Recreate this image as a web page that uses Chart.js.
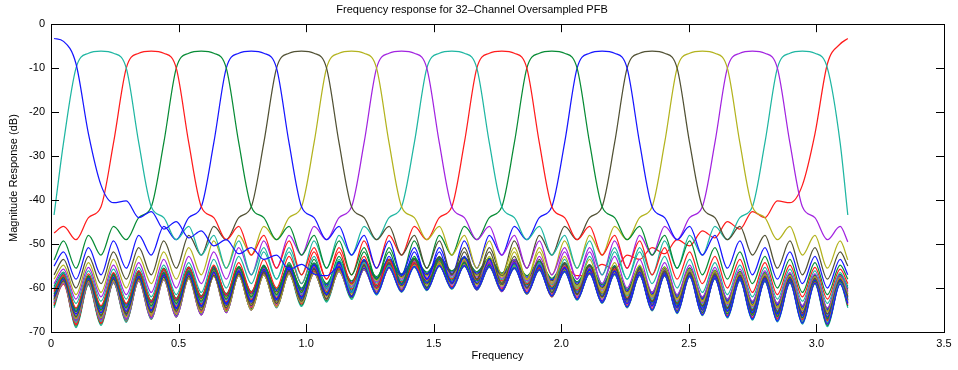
<!DOCTYPE html>
<html>
<head>
<meta charset="utf-8">
<script src="https://cdn.jsdelivr.net/npm/chart.js@4.4.0/dist/chart.umd.min.js"></script>
<style>
  html, body { margin: 0; padding: 0; background: #fff; }
  #wrap { width: 958px; height: 370px; }
</style>
</head>
<body>
<div id="wrap"><canvas id="pfbChart" width="958" height="370"></canvas></div>
<script>
// Frequency grid (rad/sample), shared by every channel
const freqs = [0.012, 0.049, 0.098, 0.147, 0.196, 0.245, 0.295, 0.344, 0.393, 0.442, 0.491, 0.540, 0.589, 0.638, 0.687, 0.736,
  0.785, 0.834, 0.884, 0.933, 0.982, 1.031, 1.080, 1.129, 1.178, 1.227, 1.276, 1.325, 1.374, 1.424, 1.473, 1.522,
  1.571, 1.620, 1.669, 1.718, 1.767, 1.816, 1.865, 1.914, 1.963, 2.013, 2.062, 2.111, 2.160, 2.209, 2.258, 2.307,
  2.356, 2.405, 2.454, 2.503, 2.553, 2.602, 2.651, 2.700, 2.749, 2.798, 2.847, 2.896, 2.945, 2.994, 3.043, 3.093, 3.123];

// Magnitude response (dB) of each channel, channels 0..16 have their passband in view
const ch00 = [-3.25, -3.9, -9, -25, -36.6, -40.6, -40.2, -44, -42.6, -46.6, -44.9, -48.6, -47, -50.4, -49, -52.2, -50.8, -53.5, -52.5, -55.8, -54.6, -56.8, -57.2, -55.2, -62, -55.5, -61.4, -55.3, -60.8, -55.1, -60.4, -54.9, -60.1, -54.9, -60.3, -55.1, -60.6, -55.4, -61.2, -55.8, -61.8, -56.2, -62.6, -56.6, -63.3, -56.8, -64.3, -57, -65, -57.1, -65.6, -57.3, -66.1, -57.8, -66.6, -58.1, -67.1, -58.4, -67.5, -58.7, -68, -58.9, -68.2, -59.1, -63.5];
const ch01 = [-43.4, -27, -10, -6.6, -6.1, -6.6, -10, -27, -41.5, -44, -49, -46, -52.5, -48, -55.5, -49.3, -57, -50.8, -58, -51.8, -59, -52.8, -60, -53.5, -61, -54.2, -61.4, -54.8, -60.8, -55.1, -60.4, -54.9, -60.1, -54.9, -60.3, -55.1, -60.6, -55.4, -61.2, -55.8, -61.8, -56.2, -62.6, -56.6, -63.3, -56.8, -64.3, -57, -65, -57.1, -65.6, -57.3, -66.1, -57.8, -66.6, -58.1, -67.1, -58.4, -67.4, -58.7, -67.6, -58.9, -67.8, -58.8, -63.3];
const ch02 = [-47.5, -46, -49, -44, -41.5, -27, -10, -6.6, -6.1, -6.6, -10, -27, -41.5, -44, -49, -46, -52.5, -48, -55.5, -49.3, -57, -50.8, -58, -51.8, -59, -52.8, -60, -53.5, -60.8, -54.2, -60.4, -54.8, -60.1, -54.9, -60.3, -55.1, -60.6, -55.4, -61.2, -55.8, -61.8, -56.2, -62.6, -56.6, -63.3, -56.8, -64.3, -57, -65, -57.1, -65.6, -57.3, -66.1, -57.8, -66.5, -58.1, -66.8, -58.4, -67, -58.6, -67.2, -58.7, -67.4, -58.8, -63];
const ch03 = [-53.6, -49.3, -55.5, -48, -52.5, -46, -49, -44, -41.5, -27, -10, -6.6, -6.1, -6.6, -10, -27, -41.5, -44, -49, -46, -52.5, -48, -55.5, -49.3, -57, -50.8, -58, -51.8, -59, -52.8, -60, -53.5, -60.1, -54.2, -60.3, -54.8, -60.6, -55.3, -61.2, -55.7, -61.8, -56.1, -62.6, -56.5, -63.3, -56.8, -64.3, -57, -65, -57.1, -65.3, -57.3, -65.6, -57.8, -65.9, -58, -66.2, -58.2, -66.5, -58.4, -66.8, -58.5, -67, -58.6, -62.7];
const ch04 = [-55, -51.8, -58, -50.8, -57, -49.3, -55.5, -48, -52.5, -46, -49, -44, -41.5, -27, -10, -6.6, -6.1, -6.6, -10, -27, -41.5, -44, -49, -46, -52.5, -48, -55.5, -49.3, -57, -50.8, -58, -51.8, -59, -52.8, -60, -53.5, -60.6, -54.2, -61.2, -54.8, -61.8, -55.3, -62.5, -55.7, -63, -56.1, -63.5, -56.5, -64, -56.8, -64.5, -57.1, -65, -57.4, -65.3, -57.6, -65.6, -57.8, -65.9, -58, -66.2, -58.2, -66.5, -58.4, -62.4];
const ch05 = [-57, -53.5, -60, -52.8, -59, -51.8, -58, -50.8, -57, -49.3, -55.5, -48, -52.5, -46, -49, -44, -41.5, -27, -10, -6.6, -6.1, -6.6, -10, -27, -41.5, -44, -49, -46, -52.5, -48, -55.5, -49.3, -57, -50.8, -58, -51.8, -59, -52.8, -60, -53.5, -61, -54.2, -61.5, -54.8, -62, -55.3, -62.5, -55.7, -63, -56.1, -63.5, -56.5, -64, -56.8, -64.5, -57.1, -65, -57.4, -65.3, -57.6, -65.6, -57.8, -65.9, -58, -61.9];
const ch06 = [-58, -54.8, -61.5, -54.2, -61, -53.5, -60, -52.8, -59, -51.8, -58, -50.8, -57, -49.3, -55.5, -48, -52.5, -46, -49, -44, -41.5, -27, -10, -6.6, -6.1, -6.6, -10, -27, -41.5, -44, -49, -46, -52.5, -48, -55.5, -49.3, -57, -50.8, -58, -51.8, -59, -52.8, -60, -53.5, -61, -54.2, -61.5, -54.8, -62, -55.3, -62.5, -55.7, -63, -56.1, -63.5, -56.5, -64, -56.8, -64.5, -57.1, -65, -57.4, -65.3, -57.6, -61.4];
const ch07 = [-59, -55.7, -62.5, -55.3, -62, -54.8, -61.5, -54.2, -61, -53.5, -60, -52.8, -59, -51.8, -58, -50.8, -57, -49.3, -55.5, -48, -52.5, -46, -49, -44, -41.5, -27, -10, -6.6, -6.1, -6.6, -10, -27, -41.5, -44, -49, -46, -52.5, -48, -55.5, -49.3, -57, -50.8, -58, -51.8, -59, -52.8, -60, -53.5, -61, -54.2, -61.5, -54.8, -62, -55.3, -62.5, -55.7, -63, -56.1, -63.5, -56.5, -64, -56.8, -64.5, -57.1, -60.8];
const ch08 = [-60, -56.5, -63.5, -56.1, -63, -55.7, -62.5, -55.3, -62, -54.8, -61.5, -54.2, -61, -53.5, -60, -52.8, -59, -51.8, -58, -50.8, -57, -49.3, -55.5, -48, -52.5, -46, -49, -44, -41.5, -27, -10, -6.6, -6.1, -6.6, -10, -27, -41.5, -44, -49, -46, -52.5, -48, -55.5, -49.3, -57, -50.8, -58, -51.8, -59, -52.8, -60, -53.5, -61, -54.2, -61.5, -54.8, -62, -55.3, -62.5, -55.7, -63, -56.1, -63.5, -56.5, -60];
const ch09 = [-60.8, -57.1, -64.5, -56.8, -64, -56.5, -63.5, -56.1, -63, -55.7, -62.5, -55.3, -62, -54.8, -61.5, -54.2, -61, -53.5, -60, -52.8, -59, -51.8, -58, -50.8, -57, -49.3, -55.5, -48, -52.5, -46, -49, -44, -41.5, -27, -10, -6.6, -6.1, -6.6, -10, -27, -41.5, -44, -49, -46, -52.5, -48, -55.5, -49.3, -57, -50.8, -58, -51.8, -59, -52.8, -60, -53.5, -61, -54.2, -61.5, -54.8, -62, -55.3, -62.5, -55.7, -59];
const ch10 = [-61.4, -57.6, -65.3, -57.4, -65, -57.1, -64.5, -56.8, -64, -56.5, -63.5, -56.1, -63, -55.7, -62.5, -55.3, -62, -54.8, -61.5, -54.2, -61, -53.5, -60, -52.8, -59, -51.8, -58, -50.8, -57, -49.3, -55.5, -48, -52.5, -46, -49, -44, -41.5, -27, -10, -6.6, -6.1, -6.6, -10, -27, -41.5, -44, -49, -46, -52.5, -48, -55.5, -49.3, -57, -50.8, -58, -51.8, -59, -52.8, -60, -53.5, -61, -54.2, -61.5, -54.8, -58];
const ch11 = [-61.9, -58, -65.9, -57.8, -65.6, -57.6, -65.3, -57.4, -65, -57.1, -64.5, -56.8, -64, -56.5, -63.5, -56.1, -63, -55.7, -62.5, -55.3, -62, -54.8, -61.5, -54.2, -61, -53.5, -60, -52.8, -59, -51.8, -58, -50.8, -57, -49.3, -55.5, -48, -52.5, -46, -49, -44, -41.5, -27, -10, -6.6, -6.1, -6.6, -10, -27, -41.5, -44, -49, -46, -52.5, -48, -55.5, -49.3, -57, -50.8, -58, -51.8, -59, -52.8, -60, -53.5, -57];
const ch12 = [-62.4, -58.4, -66.5, -58.2, -66.2, -58, -65.9, -57.8, -65.6, -57.6, -65.3, -57.4, -65, -57.1, -64.5, -56.8, -64, -56.5, -63.5, -56.1, -63, -55.7, -62.5, -55.3, -61.8, -54.8, -61.2, -54.2, -60.6, -53.5, -60, -52.8, -59, -51.8, -58, -50.8, -57, -49.3, -55.5, -48, -52.5, -46, -49, -44, -41.5, -27, -10, -6.6, -6.1, -6.6, -10, -27, -41.5, -44, -49, -46, -52.5, -48, -55.5, -49.3, -57, -50.8, -58, -51.8, -55];
const ch13 = [-62.7, -58.6, -67, -58.5, -66.8, -58.4, -66.5, -58.2, -66.2, -58, -65.9, -57.8, -65.6, -57.3, -65.3, -57.1, -65, -57, -64.3, -56.8, -63.3, -56.5, -62.6, -56.1, -61.8, -55.7, -61.2, -55.3, -60.6, -54.8, -60.3, -54.2, -60.1, -53.5, -60, -52.8, -59, -51.8, -58, -50.8, -57, -49.3, -55.5, -48, -52.5, -46, -49, -44, -41.5, -27, -10, -6.6, -6.1, -6.6, -10, -27, -41.5, -44, -49, -46, -52.5, -48, -55.5, -49.3, -53.6];
const ch14 = [-63, -58.8, -67.4, -58.7, -67.2, -58.6, -67, -58.4, -66.8, -58.1, -66.5, -57.8, -66.1, -57.3, -65.6, -57.1, -65, -57, -64.3, -56.8, -63.3, -56.6, -62.6, -56.2, -61.8, -55.8, -61.2, -55.4, -60.6, -55.1, -60.3, -54.9, -60.1, -54.8, -60.4, -54.2, -60.8, -53.5, -60, -52.8, -59, -51.8, -58, -50.8, -57, -49.3, -55.5, -48, -52.5, -46, -49, -44, -41.5, -27, -10, -6.6, -6.1, -6.6, -10, -27, -41.5, -44, -49, -46, -49.5];
const ch15 = [-63.3, -58.8, -67.8, -58.9, -67.6, -58.7, -67.4, -58.4, -67.1, -58.1, -66.6, -57.8, -66.1, -57.3, -65.6, -57.1, -65, -57, -64.3, -56.8, -63.3, -56.6, -62.6, -56.2, -61.8, -55.8, -61.2, -55.4, -60.6, -55.1, -60.3, -54.9, -60.1, -54.9, -60.4, -55.1, -60.8, -54.8, -61.4, -54.2, -61, -53.5, -60, -52.8, -59, -51.8, -58, -50.8, -57, -49.3, -55.5, -48, -52.5, -46, -49, -44, -41.5, -27, -10, -6.6, -6.1, -6.6, -10, -27, -43.4];
const ch16 = [-63.5, -59.1, -68.2, -58.9, -68, -58.7, -67.5, -58.4, -67.1, -58.1, -66.6, -57.8, -66.1, -57.3, -65.6, -57.1, -65, -57, -64.3, -56.8, -63.3, -56.6, -62.6, -56.2, -61.8, -55.8, -61.2, -55.4, -60.6, -55.1, -60.3, -54.9, -60.1, -54.9, -60.4, -55.1, -60.8, -55.3, -61.4, -55.5, -62, -55.2, -57.2, -56.8, -54.6, -55.8, -52.5, -53.5, -50.8, -52.2, -49, -50.4, -47, -48.6, -44.9, -46.6, -42.6, -44, -40.2, -40.6, -36.6, -25, -9, -4.5, -3.25];
// channels 17..31: only their stopband shows in this range
const ch17 = [-59.6, -56.4, -64.8, -57.2, -64.3, -56.7, -63.6, -56.1, -62.8, -55.5, -62.3, -55.2, -61.8, -55.1, -61.3, -55.1, -60.8, -54.9, -60.3, -54.7, -60.0, -54.3, -59.0, -53.9, -58.4, -53.6, -57.4, -53.4, -56.8, -53.2, -56.4, -53.0, -56.1, -53.0, -56.3, -53.2, -56.6, -53.5, -57.2, -53.9, -57.8, -54.3, -58.6, -54.7, -59.3, -54.9, -60.3, -55.1, -61.0, -55.2, -61.6, -55.4, -62.1, -55.9, -62.6, -56.2, -63.1, -56.5, -63.5, -56.8, -64.0, -57.0, -64.6, -56.9, -59.6];
const ch18 = [-59.9, -56.5, -65.1, -57.3, -64.6, -56.8, -63.9, -56.2, -63.1, -55.6, -62.6, -55.3, -62.1, -55.2, -61.6, -55.2, -61.1, -55.0, -60.6, -54.8, -60.3, -54.4, -59.3, -54.0, -58.7, -53.7, -57.7, -53.5, -57.1, -53.3, -56.7, -53.1, -56.4, -53.1, -56.6, -53.3, -56.9, -53.6, -57.5, -54.0, -58.1, -54.4, -58.9, -54.8, -59.6, -55.0, -60.6, -55.2, -61.3, -55.3, -61.9, -55.5, -62.4, -56.0, -62.9, -56.3, -63.4, -56.6, -63.8, -56.9, -64.3, -57.1, -64.9, -57.0, -59.9];
const ch19 = [-60.3, -56.7, -65.4, -57.5, -64.9, -57.0, -64.2, -56.4, -63.4, -55.8, -62.9, -55.5, -62.4, -55.4, -61.9, -55.4, -61.4, -55.2, -60.9, -55.0, -60.6, -54.6, -59.6, -54.2, -59.0, -53.9, -58.0, -53.7, -57.4, -53.5, -57.0, -53.3, -56.7, -53.3, -56.9, -53.5, -57.2, -53.8, -57.8, -54.2, -58.4, -54.6, -59.2, -55.0, -59.9, -55.2, -60.9, -55.4, -61.6, -55.5, -62.2, -55.7, -62.7, -56.2, -63.2, -56.5, -63.7, -56.8, -64.1, -57.1, -64.6, -57.3, -65.2, -57.2, -60.3];
const ch20 = [-60.6, -56.8, -65.7, -57.6, -65.2, -57.1, -64.5, -56.5, -63.7, -55.9, -63.2, -55.6, -62.7, -55.5, -62.2, -55.5, -61.7, -55.3, -61.2, -55.1, -60.9, -54.7, -59.9, -54.3, -59.3, -54.0, -58.3, -53.8, -57.7, -53.6, -57.3, -53.4, -57.0, -53.4, -57.2, -53.6, -57.5, -53.9, -58.1, -54.3, -58.7, -54.7, -59.5, -55.1, -60.2, -55.3, -61.2, -55.5, -61.9, -55.6, -62.5, -55.8, -63.0, -56.3, -63.5, -56.6, -64.0, -56.9, -64.4, -57.2, -64.9, -57.4, -65.5, -57.3, -60.6];
const ch21 = [-61.0, -57.0, -66.0, -57.8, -65.5, -57.3, -64.8, -56.7, -64.0, -56.1, -63.5, -55.8, -63.0, -55.7, -62.5, -55.7, -62.0, -55.5, -61.5, -55.3, -61.2, -54.9, -60.2, -54.5, -59.6, -54.2, -58.6, -54.0, -58.0, -53.8, -57.6, -53.6, -57.3, -53.6, -57.5, -53.8, -57.8, -54.1, -58.4, -54.5, -59.0, -54.9, -59.8, -55.3, -60.5, -55.5, -61.5, -55.7, -62.2, -55.8, -62.8, -56.0, -63.3, -56.5, -63.8, -56.8, -64.3, -57.1, -64.7, -57.4, -65.2, -57.6, -65.8, -57.5, -61.0];
const ch22 = [-61.3, -57.1, -66.3, -57.9, -65.8, -57.4, -65.1, -56.8, -64.3, -56.2, -63.8, -55.9, -63.3, -55.8, -62.8, -55.8, -62.3, -55.6, -61.8, -55.4, -61.5, -55.0, -60.5, -54.6, -59.9, -54.3, -58.9, -54.1, -58.3, -53.9, -57.9, -53.7, -57.6, -53.7, -57.8, -53.9, -58.1, -54.2, -58.7, -54.6, -59.3, -55.0, -60.1, -55.4, -60.8, -55.6, -61.8, -55.8, -62.5, -55.9, -63.1, -56.1, -63.6, -56.6, -64.1, -56.9, -64.6, -57.2, -65.0, -57.5, -65.5, -57.7, -66.1, -57.6, -61.3];
const ch23 = [-61.7, -57.3, -66.6, -58.1, -66.1, -57.6, -65.4, -57.0, -64.6, -56.4, -64.1, -56.1, -63.6, -56.0, -63.1, -56.0, -62.6, -55.8, -62.1, -55.6, -61.8, -55.2, -60.8, -54.8, -60.2, -54.5, -59.2, -54.3, -58.6, -54.1, -58.2, -53.9, -57.9, -53.9, -58.1, -54.1, -58.4, -54.4, -59.0, -54.8, -59.6, -55.2, -60.4, -55.6, -61.1, -55.8, -62.1, -56.0, -62.8, -56.1, -63.4, -56.3, -63.9, -56.8, -64.4, -57.1, -64.9, -57.4, -65.3, -57.7, -65.8, -57.9, -66.4, -57.8, -61.7];
const ch24 = [-62.0, -57.4, -66.9, -58.2, -66.4, -57.7, -65.7, -57.1, -64.9, -56.5, -64.4, -56.2, -63.9, -56.1, -63.4, -56.1, -62.9, -55.9, -62.4, -55.7, -62.1, -55.3, -61.1, -54.9, -60.5, -54.6, -59.5, -54.4, -58.9, -54.2, -58.5, -54.0, -58.2, -54.0, -58.4, -54.2, -58.7, -54.5, -59.3, -54.9, -59.9, -55.3, -60.7, -55.7, -61.4, -55.9, -62.4, -56.1, -63.1, -56.2, -63.7, -56.4, -64.2, -56.9, -64.7, -57.2, -65.2, -57.5, -65.6, -57.8, -66.1, -58.0, -66.7, -57.9, -62.0];
const ch25 = [-62.4, -57.6, -67.2, -58.4, -66.7, -57.9, -66.0, -57.3, -65.2, -56.7, -64.7, -56.4, -64.2, -56.3, -63.7, -56.3, -63.2, -56.1, -62.7, -55.9, -62.4, -55.5, -61.4, -55.1, -60.8, -54.8, -59.8, -54.6, -59.2, -54.4, -58.8, -54.2, -58.5, -54.2, -58.7, -54.4, -59.0, -54.7, -59.6, -55.1, -60.2, -55.5, -61.0, -55.9, -61.7, -56.1, -62.7, -56.3, -63.4, -56.4, -64.0, -56.6, -64.5, -57.1, -65.0, -57.4, -65.5, -57.7, -65.9, -58.0, -66.4, -58.2, -67.0, -58.1, -62.4];
const ch26 = [-62.7, -57.7, -67.5, -58.5, -67.0, -58.0, -66.3, -57.4, -65.5, -56.8, -65.0, -56.5, -64.5, -56.4, -64.0, -56.4, -63.5, -56.2, -63.0, -56.0, -62.7, -55.6, -61.7, -55.2, -61.1, -54.9, -60.1, -54.7, -59.5, -54.5, -59.1, -54.3, -58.8, -54.3, -59.0, -54.5, -59.3, -54.8, -59.9, -55.2, -60.5, -55.6, -61.3, -56.0, -62.0, -56.2, -63.0, -56.4, -63.7, -56.5, -64.3, -56.7, -64.8, -57.2, -65.3, -57.5, -65.8, -57.8, -66.2, -58.1, -66.7, -58.3, -67.3, -58.2, -62.7];
const ch27 = [-63.1, -57.9, -67.8, -58.7, -67.3, -58.2, -66.6, -57.6, -65.8, -57.0, -65.3, -56.7, -64.8, -56.6, -64.3, -56.6, -63.8, -56.4, -63.3, -56.2, -63.0, -55.8, -62.0, -55.4, -61.4, -55.1, -60.4, -54.9, -59.8, -54.7, -59.4, -54.5, -59.1, -54.5, -59.3, -54.7, -59.6, -55.0, -60.2, -55.4, -60.8, -55.8, -61.6, -56.2, -62.3, -56.4, -63.3, -56.6, -64.0, -56.7, -64.6, -56.9, -65.1, -57.4, -65.6, -57.7, -66.1, -58.0, -66.5, -58.3, -67.0, -58.5, -67.6, -58.4, -63.1];
const ch28 = [-63.4, -58.0, -68.1, -58.8, -67.6, -58.3, -66.9, -57.7, -66.1, -57.1, -65.6, -56.8, -65.1, -56.7, -64.6, -56.7, -64.1, -56.5, -63.6, -56.3, -63.3, -55.9, -62.3, -55.5, -61.7, -55.2, -60.7, -55.0, -60.1, -54.8, -59.7, -54.6, -59.4, -54.6, -59.6, -54.8, -59.9, -55.1, -60.5, -55.5, -61.1, -55.9, -61.9, -56.3, -62.6, -56.5, -63.6, -56.7, -64.3, -56.8, -64.9, -57.0, -65.4, -57.5, -65.9, -57.8, -66.4, -58.1, -66.8, -58.4, -67.3, -58.6, -67.9, -58.5, -63.4];
const ch29 = [-63.8, -58.2, -68.4, -59.0, -67.9, -58.5, -67.2, -57.9, -66.4, -57.3, -65.9, -57.0, -65.4, -56.9, -64.9, -56.9, -64.4, -56.7, -63.9, -56.5, -63.6, -56.1, -62.6, -55.7, -62.0, -55.4, -61.0, -55.2, -60.4, -55.0, -60.0, -54.8, -59.7, -54.8, -59.9, -55.0, -60.2, -55.3, -60.8, -55.7, -61.4, -56.1, -62.2, -56.5, -62.9, -56.7, -63.9, -56.9, -64.6, -57.0, -65.2, -57.2, -65.7, -57.7, -66.2, -58.0, -66.7, -58.3, -67.1, -58.6, -67.6, -58.8, -68.2, -58.7, -63.8];
const ch30 = [-64.1, -58.3, -68.7, -59.1, -68.2, -58.6, -67.5, -58.0, -66.7, -57.4, -66.2, -57.1, -65.7, -57.0, -65.2, -57.0, -64.7, -56.8, -64.2, -56.6, -63.9, -56.2, -62.9, -55.8, -62.3, -55.5, -61.3, -55.3, -60.7, -55.1, -60.3, -54.9, -60.0, -54.9, -60.2, -55.1, -60.5, -55.4, -61.1, -55.8, -61.7, -56.2, -62.5, -56.6, -63.2, -56.8, -64.2, -57.0, -64.9, -57.1, -65.5, -57.3, -66.0, -57.8, -66.5, -58.1, -67.0, -58.4, -67.4, -58.7, -67.9, -58.9, -68.5, -58.8, -64.1];
const ch31 = [-64.5, -58.5, -69.0, -59.3, -68.5, -58.8, -67.8, -58.2, -67.0, -57.6, -66.5, -57.3, -66.0, -57.2, -65.5, -57.2, -65.0, -57.0, -64.5, -56.8, -64.2, -56.4, -63.2, -56.0, -62.6, -55.7, -61.6, -55.5, -61.0, -55.3, -60.6, -55.1, -60.3, -55.1, -60.5, -55.3, -60.8, -55.6, -61.4, -56.0, -62.0, -56.4, -62.8, -56.8, -63.5, -57.0, -64.5, -57.2, -65.2, -57.3, -65.8, -57.5, -66.3, -58.0, -66.8, -58.3, -67.3, -58.6, -67.7, -58.9, -68.2, -59.1, -68.8, -59.0, -64.5];

const xTicks = [0, 0.5, 1, 1.5, 2, 2.5, 3, 3.5];
const yTicks = [-70, -60, -50, -40, -30, -20, -10, 0];

// line colours (matlab-ish)
const cBlue = '#1616ff';
const cCyan = '#1fb6a2';
const cRed = '#ff1c1c';
const cGreen = '#078b35';
const cDark = '#515134';
const cOlive = '#b3b31e';
const cPurple = '#a224e0';

const channels = [ch00, ch01, ch02, ch03, ch04, ch05, ch06, ch07, ch08, ch09, ch10, ch11, ch12, ch13, ch14, ch15,
  ch16, ch17, ch18, ch19, ch20, ch21, ch22, ch23, ch24, ch25, ch26, ch27, ch28, ch29, ch30, ch31];
const colours = [cBlue, cCyan, cRed, cGreen, cBlue, cDark, cOlive, cPurple, cCyan, cRed, cGreen, cBlue, cDark, cOlive, cPurple, cCyan,
  cRed, cGreen, cBlue, cDark, cOlive, cPurple, cCyan, cRed, cGreen, cBlue, cDark, cOlive, cPurple, cRed, cGreen, cCyan];

channels.forEach((c, i) => {
  if (c.length !== freqs.length) console.error('channel ' + i + ' has ' + c.length + ' points');
});

const fontFamily = "'Liberation Sans', Arial, sans-serif";
Chart.defaults.font.family = fontFamily;
Chart.defaults.font.size = 11;
Chart.defaults.color = '#000';

// matlab style box with inward ticks on all four sides
const boxTicks = {
  id: 'boxTicks',
  afterDraw(chart) {
    const { ctx, chartArea: a, scales: { x, y } } = chart;
    const len = 8;
    ctx.save();
    ctx.strokeStyle = '#000';
    ctx.lineWidth = 1;
    ctx.beginPath();
    xTicks.forEach(v => {
      const px = Math.round(x.getPixelForValue(v)) + 0.5;
      ctx.moveTo(px, a.bottom); ctx.lineTo(px, a.bottom - len);
      ctx.moveTo(px, a.top); ctx.lineTo(px, a.top + len);
    });
    yTicks.forEach(v => {
      const py = Math.round(y.getPixelForValue(v)) + 0.5;
      ctx.moveTo(a.left, py); ctx.lineTo(a.left + len, py);
      ctx.moveTo(a.right, py); ctx.lineTo(a.right - len, py);
    });
    ctx.stroke();
    ctx.strokeRect(Math.round(a.left) + 0.5, Math.round(a.top) + 0.5, Math.round(a.width), Math.round(a.height));
    ctx.restore();
  }
};

new Chart(document.getElementById('pfbChart'), {
  type: 'line',
  data: {
    datasets: channels.map((vals, i) => ({
      label: 'Channel ' + i,
      data: vals.map((v, j) => ({ x: freqs[j], y: v })),
      borderColor: colours[i],
      borderWidth: 1.25,
      pointRadius: 0,
      fill: false,
      cubicInterpolationMode: 'monotone'
    }))
  },
  options: {
    responsive: false,
    animation: false,
    devicePixelRatio: 1,
    layout: { padding: { left: 0, right: 14, top: 0, bottom: 0 } },
    plugins: {
      legend: { display: false },
      tooltip: { enabled: false },
      title: {
        display: true,
        text: 'Frequency response for 32\u2013Channel Oversampled PFB',
        font: { size: 11, weight: 'normal' },
        color: '#000',
        padding: { top: 3, bottom: 8 }
      }
    },
    scales: {
      x: {
        type: 'linear',
        min: 0,
        max: 3.5,
        afterFit: s => { s.height = 38; },
        afterBuildTicks: s => { s.ticks = xTicks.map(v => ({ value: v })); },
        ticks: { padding: 5, maxRotation: 0 },
        grid: { display: false, drawTicks: false },
        border: { display: false },
        title: { display: true, text: 'Frequency', padding: { top: 0, bottom: 7 } }
      },
      y: {
        type: 'linear',
        min: -70,
        max: 0,
        afterFit: s => { s.width = 51; },
        afterBuildTicks: s => { s.ticks = yTicks.map(v => ({ value: v })); },
        ticks: { padding: 6 },
        grid: { display: false, drawTicks: false },
        border: { display: false },
        title: { display: true, text: 'Magnitude Response (dB)', padding: { top: 7, bottom: 0 } }
      }
    }
  },
  plugins: [boxTicks]
});
</script>
</body>
</html>
